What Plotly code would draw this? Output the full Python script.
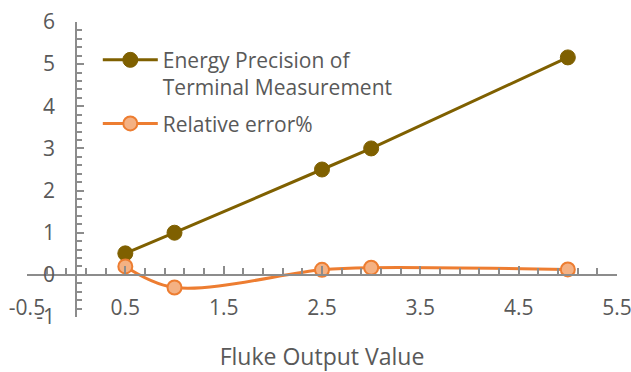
import plotly.graph_objects as go

x_vals = [0.5, 1, 2.5, 3, 5]
energy_precision = [0.51, 1.0, 2.5, 3.0, 5.16]
relative_error = [0.2, -0.3, 0.12, 0.17, 0.13]
series_names = ["Energy Precision of<br>Terminal Measurement", "Relative error%"]
x_title = "Fluke Output Value"
x_tickvals = [-0.5, 0.5, 1.5, 2.5, 3.5, 4.5, 5.5]
x_ticktext = ["-0.5", "0.5", "1.5", "2.5", "3.5", "4.5", "5.5"]
y_tickvals = [-1, 0, 1, 2, 3, 4, 5, 6]
y_ticktext = ["-1", "0", "1", "2", "3", "4", "5", "6"]

FONT = "Open Sans"
TXT = "#595959"
AX = "#8c8c8c"

fig = go.Figure()
fig.add_trace(go.Scatter(
    x=x_vals, y=energy_precision, name=series_names[0], mode="lines+markers",
    legendgroup="g1",
    line=dict(color="#7f6000", width=3),
    marker=dict(color="#7f6000", size=15, line=dict(color="#7f6000", width=1)),
))
fig.add_trace(go.Scatter(
    x=x_vals, y=relative_error, name=series_names[1], mode="lines+markers",
    legendgroup="g2",
    line=dict(color="#ed7d31", width=3, shape="spline", smoothing=1),
    marker=dict(color="#f4b183", size=14, line=dict(color="#ed7d31", width=2)),
))

fig.update_layout(
    width=631, height=372,
    margin=dict(l=27, r=14, t=22, b=55),
    paper_bgcolor="white", plot_bgcolor="white",
    font=dict(family=FONT, size=21, color=TXT),
    showlegend=True,
    legend=dict(x=0.12, y=0.94, xanchor="left", yanchor="top", itemwidth=55,
                valign="top", traceorder="grouped",
                bgcolor="rgba(0,0,0,0)", font=dict(size=21, color=TXT),
                tracegroupgap=6),
    xaxis=dict(
        range=[-0.5, 5.5], tickvals=x_tickvals, ticktext=x_ticktext,
        anchor="free", position=1/7, automargin=False, ticklabeloverflow="allow",
        showgrid=False, zeroline=False, showline=True, linecolor=AX, linewidth=2,
        ticks="inside", ticklen=8, tickcolor=AX, tickwidth=1.5,
        minor=dict(tick0=-0.5, dtick=0.2, ticks="inside", ticklen=6, tickcolor=AX, tickwidth=1.5),
        ticklabelstandoff=14, tickfont=dict(size=21, color=TXT),
        title=dict(text=x_title, font=dict(size=23, color=TXT), standoff=38),
        fixedrange=True,
    ),
    yaxis=dict(
        range=[-1, 6], tickvals=y_tickvals, ticktext=y_ticktext,
        anchor="free", position=0.5/6, automargin=False, ticklabeloverflow="allow",
        showgrid=False, zeroline=False, showline=True, linecolor=AX, linewidth=2,
        ticks="inside", ticklen=7, tickcolor=AX, tickwidth=1.5,
        minor=dict(dtick=0.2, ticks="inside", ticklen=5, tickcolor=AX, tickwidth=1.5),
        ticklabelstandoff=16, tickfont=dict(size=21, color=TXT),
        fixedrange=True,
    ),
)

fig.write_html("out.html")
